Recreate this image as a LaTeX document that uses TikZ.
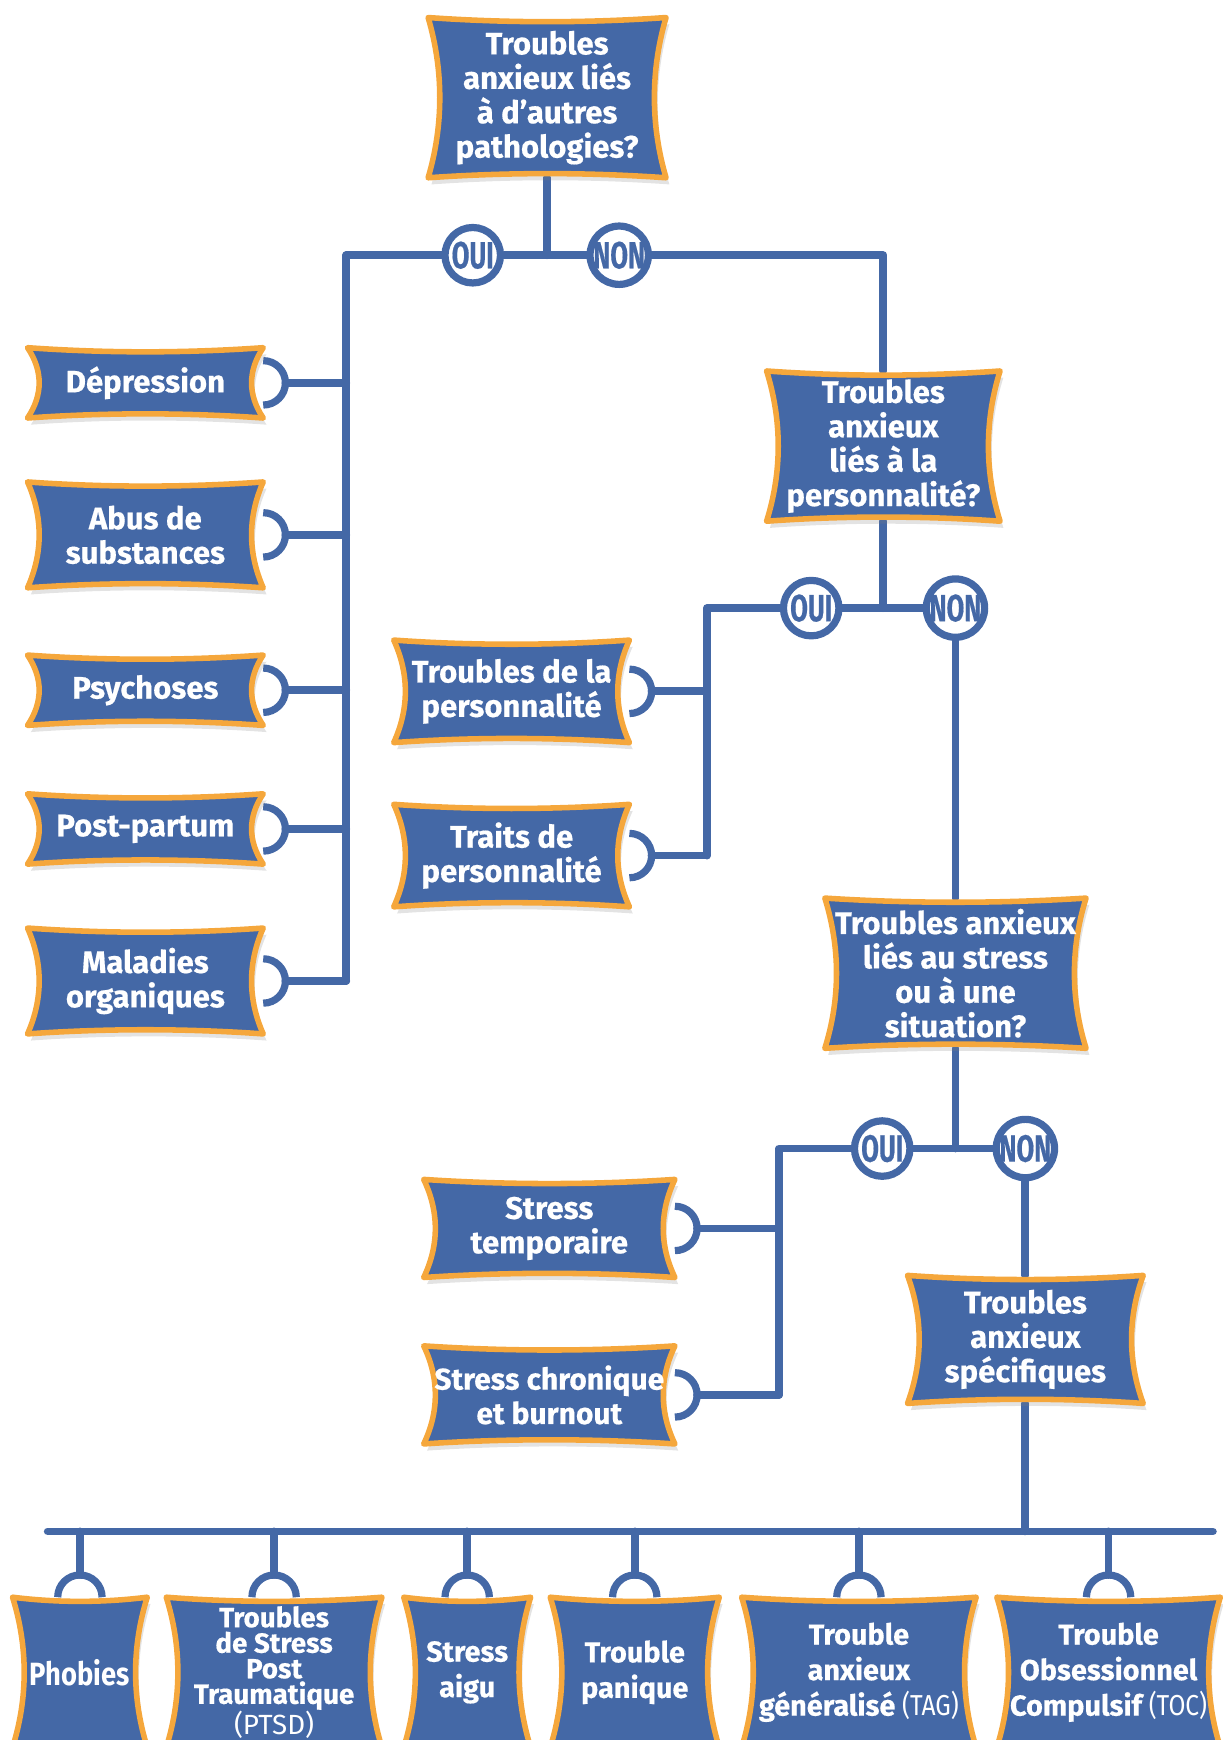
\documentclass[tikz,border=0pt]{standalone}
\usepackage{fontspec}
\setmainfont{Fira Sans}[BoldFeatures={FakeBold=0.5}]
\newfontfamily\condfont{Fira Sans}[FakeStretch=0.68, BoldFeatures={FakeBold=0.4}]
\newfontfamily\narrowfont{Fira Sans}[FakeStretch=0.85]
\usetikzlibrary{calc,positioning,shadows}
\definecolor{flowblue}{RGB}{68,104,166}
\definecolor{flowamber}{RGB}{245,167,60}
\pgfdeclarelayer{lines}
\pgfdeclarelayer{boxes}
\pgfsetlayers{lines,boxes,main}

% cushion shaped banner drawn behind a text node
\newcommand{\cushion}[1]{%
  \path[cushionbox] (#1.north west)
    .. controls ($(#1.north west)!.33!(#1.north east)+(0,-5)$) and ($(#1.north west)!.67!(#1.north east)+(0,-5)$) .. (#1.north east)
    .. controls ($(#1.north east)!.33!(#1.south east)+(-14,0)$) and ($(#1.north east)!.67!(#1.south east)+(-14,0)$) .. (#1.south east)
    .. controls ($(#1.south east)!.33!(#1.south west)+(0,5)$) and ($(#1.south east)!.67!(#1.south west)+(0,5)$) .. (#1.south west)
    .. controls ($(#1.south west)!.33!(#1.north west)+(14,0)$) and ($(#1.south west)!.67!(#1.north west)+(14,0)$) .. (#1.north west) -- cycle;}

\begin{document}
\begin{tikzpicture}[x=1pt, y=1pt]
	\tikzstyle{link} = [draw=flowblue, line width=7pt, line cap=round, line join=round];
	\tikzstyle{hook} = [draw=flowblue, line width=6.5pt];
	\tikzstyle{cushionbox} = [fill=flowblue, draw=flowamber, line width=5pt, line join=round, drop shadow={shadow xshift=3pt, shadow yshift=-6pt, opacity=0.22}];
	\tikzstyle{boxtext} = [inner sep=0pt, text=white, align=center, font={\bfseries\fontsize{28}{31}\selectfont}];
	\tikzstyle{leaftext} = [boxtext, minimum height=135pt, font={\bfseries\fontsize{26}{32}\selectfont}];
	\tikzstyle{answer} = [circle, draw=flowblue, fill=white, line width=6.5pt, minimum size=50pt, inner sep=0pt, text=flowblue, font={\condfont\bfseries\fontsize{34}{34}\selectfont}];

	\useasboundingbox (0,0) rectangle (1102,-1568);

	% questions
	\node[boxtext, minimum width=214pt, minimum height=144pt] (q1) at (493,-88) {Troubles\\anxieux liés\\à d’autres\\pathologies?};
	\node[boxtext, minimum width=210pt, minimum height=135pt] (q2) at (796,-402) {Troubles\\anxieux\\liés à la\\personnalité?};
	\node[boxtext, minimum width=235pt, minimum height=135pt] (q3) at (861,-877) {Troubles anxieux\\liés au stress\\ou à une\\situation?};
	\node[boxtext, minimum width=212pt, minimum height=115pt] (q4) at (924,-1207) {Troubles\\anxieux\\spécifiques};

	% answers
	\coordinate (j1) at (493,-230);
	\node[answer] (oui1) at ($(j1)+(-67,0)$) {OUI};
	\node[answer] (non1) at ($(j1)+(65,0)$) {NON};
	\coordinate (j2) at (796,-548);
	\node[answer] (oui2) at ($(j2)+(-65,0)$) {OUI};
	\node[answer] (non2) at ($(j2)+(65,0)$) {NON};
	\coordinate (j3) at (861,-1035);
	\node[answer] (oui3) at ($(j3)+(-66,0)$) {OUI};
	\node[answer] (non3) at ($(j3)+(63,0)$) {NON};
	\coordinate (j4) at (924,-1380);

	% other pathologies
	\node[boxtext, minimum width=212pt, minimum height=63pt] (dep) at (131,-345) {Dépression};
	\node[boxtext, minimum width=212pt, minimum height=95pt] (abus) at (131,-482) {Abus de\\substances};
	\node[boxtext, minimum width=212pt, minimum height=63pt] (psy) at (131,-622) {Psychoses};
	\node[boxtext, minimum width=212pt, minimum height=63pt] (post) at (131,-747) {Post-partum};
	\node[boxtext, minimum width=212pt, minimum height=95pt] (mal) at (131,-884) {Maladies\\organiques};

	% personality
	\node[boxtext, minimum width=212pt, minimum height=92pt] (tdp) at (461,-623) {Troubles de la\\personnalité};
	\node[boxtext, minimum width=212pt, minimum height=92pt] (traits) at (461,-771) {Traits de\\personnalité};

	% stress
	\node[boxtext, minimum width=226pt, minimum height=88pt] (stemp) at (495,-1107) {Stress\\temporaire};
	\node[boxtext, minimum width=226pt, minimum height=88pt, font={\bfseries\fontsize{27}{31}\selectfont}] (schro) at (495,-1257) {Stress chronique\\et burnout};

	% specific disorders
	\node[leaftext, minimum width=121pt, font={\narrowfont\bfseries\fontsize{29}{32}\selectfont}] (phob) at (72,-1507) {Phobies};
	\node[leaftext, minimum width=194pt, font={\bfseries\fontsize{25}{23}\selectfont}] (ptsd) at (247,-1507) {Troubles\\de Stress\\Post\\Traumatique\\{\mdseries (PTSD)}};
	\node[leaftext, minimum width=114pt] (aigu) at (421,-1507) {Stress\\aigu};
	\node[leaftext, minimum width=152pt] (panique) at (572,-1507) {Trouble\\panique};
	\node[leaftext, minimum width=211pt] (tag) at (774,-1507) {Trouble\\anxieux\\généralisé {\narrowfont\mdseries (TAG)}};
	\node[leaftext, minimum width=201pt] (toc) at (999,-1507) {Trouble\\Obsessionnel\\Compulsif {\narrowfont\mdseries (TOC)}};

	\begin{pgfonlayer}{boxes}
	\foreach \n in {q1,q2,q3,q4,dep,abus,psy,post,mal,tdp,traits,stemp,schro,phob,ptsd,aigu,panique,tag,toc}
		\cushion{\n};
	\end{pgfonlayer}

	\begin{pgfonlayer}{lines}
	\coordinate (c1) at (312,-884);
	\coordinate (c2) at (637,-771);
	\coordinate (c3) at (702,-1257);
	\coordinate (bl) at (43,-1380);
	\coordinate (br) at (1093,-1380);

	\draw[link] (q1) -- (j1);
	\draw[link] (oui1) -- (non1);
	\draw[link] (oui1) -| (c1);
	\draw[link] (non1) -| (q2);
	\draw[link] (q2) -- (j2);
	\draw[link] (oui2) -- (non2);
	\draw[link] (oui2) -| (c2);
	\draw[link] (non2) -- (q3);
	\draw[link] (q3) -- (j3);
	\draw[link] (oui3) -- (non3);
	\draw[link] (oui3) -| (c3);
	\draw[link] (non3) -- (q4);
	\draw[link] (q4) -- (j4);
	\draw[link] (bl) -- (br);

	% hooks on the right side
	\foreach \n/\c in {dep/c1,abus/c1,psy/c1,post/c1,mal/c1,tdp/c2,traits/c2,stemp/c3,schro/c3} {
		\draw[hook] ($(\n.east)+(0,-20)$) arc[start angle=-90, end angle=90, radius=20];
		\draw[link] ($(\n.east)+(20,0)$) -- (\n.east -| \c);
	}
	% hooks on top
	\foreach \n in {phob,ptsd,aigu,panique,tag,toc} {
		\draw[hook] ($(\n.north)+(-20,0)$) arc[start angle=180, end angle=0, radius=20];
		\draw[link] (\n.north |- bl) -- ($(\n.north)+(0,20)$);
	}
	\end{pgfonlayer}
\end{tikzpicture}
\end{document}
